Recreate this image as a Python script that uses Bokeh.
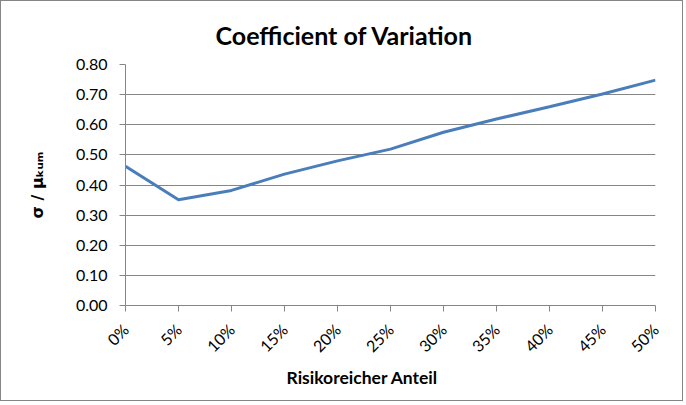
import math
from bokeh.plotting import figure
from bokeh.models import Range1d, FixedTicker, NumeralTickFormatter, Title
from bokeh.embed import file_html
from bokeh.resources import INLINE

# data
share = [0.00, 0.05, 0.10, 0.15, 0.20, 0.25, 0.30, 0.35, 0.40, 0.45, 0.50]
share_labels = ["0%", "5%", "10%", "15%", "20%", "25%", "30%", "35%", "40%", "45%", "50%"]
cv = [0.462, 0.351, 0.382, 0.436, 0.480, 0.519, 0.575, 0.619, 0.660, 0.702, 0.748]
y_ticks = [0.0, 0.1, 0.2, 0.3, 0.4, 0.5, 0.6, 0.7, 0.8]

title_text = "Coefficient of Variation"
x_label = "Risikoreicher Anteil"
y_label = "σ / μ\u2096\u1d64\u2098"

GRAY = "#868686"
FONT = "Lato"

p = figure(width=683, height=401, output_backend="svg", toolbar_location=None,
           x_range=Range1d(0, 0.5), y_range=Range1d(0, 0.8),
           min_border_left=124, min_border_right=29, min_border_top=63, min_border_bottom=97)
p.outline_line_color = None
p.background_fill_color = "white"
p.border_fill_color = "white"
p.styles = {"border": "1px solid #868686"}

p.line(share, cv, line_color="#4a7ebb", line_width=3)

p.xgrid.visible = False
p.ygrid.grid_line_color = GRAY
p.ygrid.grid_line_width = 1
p.ygrid.ticker = FixedTicker(ticks=y_ticks)

p.xaxis.ticker = FixedTicker(ticks=share)
p.xaxis.major_label_overrides = {v: s for v, s in zip(share, share_labels)}
p.xaxis.major_label_orientation = math.pi / 4
p.yaxis.ticker = FixedTicker(ticks=y_ticks)
p.yaxis.formatter = NumeralTickFormatter(format="0.00")

for ax in (p.xaxis, p.yaxis):
    ax.axis_line_color = GRAY
    ax.major_tick_line_color = GRAY
    ax.major_tick_out = 6
    ax.major_tick_in = 0
    ax.minor_tick_line_color = None
    ax.major_label_text_font = FONT
    ax.major_label_text_font_size = "16px"
    ax.major_label_text_color = "black"
p.yaxis.major_label_standoff = 12
p.xaxis.major_label_standoff = 15

p.yaxis.axis_label = y_label
p.yaxis.axis_label_text_font = "DejaVu Sans"
p.yaxis.axis_label_text_font_style = "bold"
p.yaxis.axis_label_text_font_size = "16px"
p.yaxis.axis_label_text_color = "black"
p.yaxis.axis_label_standoff = 26

p.title.text = title_text
p.title.align = "left"
p.title.offset = 90
p.title.standoff = 26
p.title.vertical_align = "top"
p.title.text_font = FONT
p.title.text_font_style = "bold"
p.title.text_font_size = "25px"
p.title.text_color = "black"

p.add_layout(Title(text=x_label, align="left", offset=161, standoff=-2,
                   text_font=FONT, text_font_style="bold", text_font_size="17.5px",
                   text_color="black"), "below")

open("out.html", "w").write(file_html(p, INLINE))
